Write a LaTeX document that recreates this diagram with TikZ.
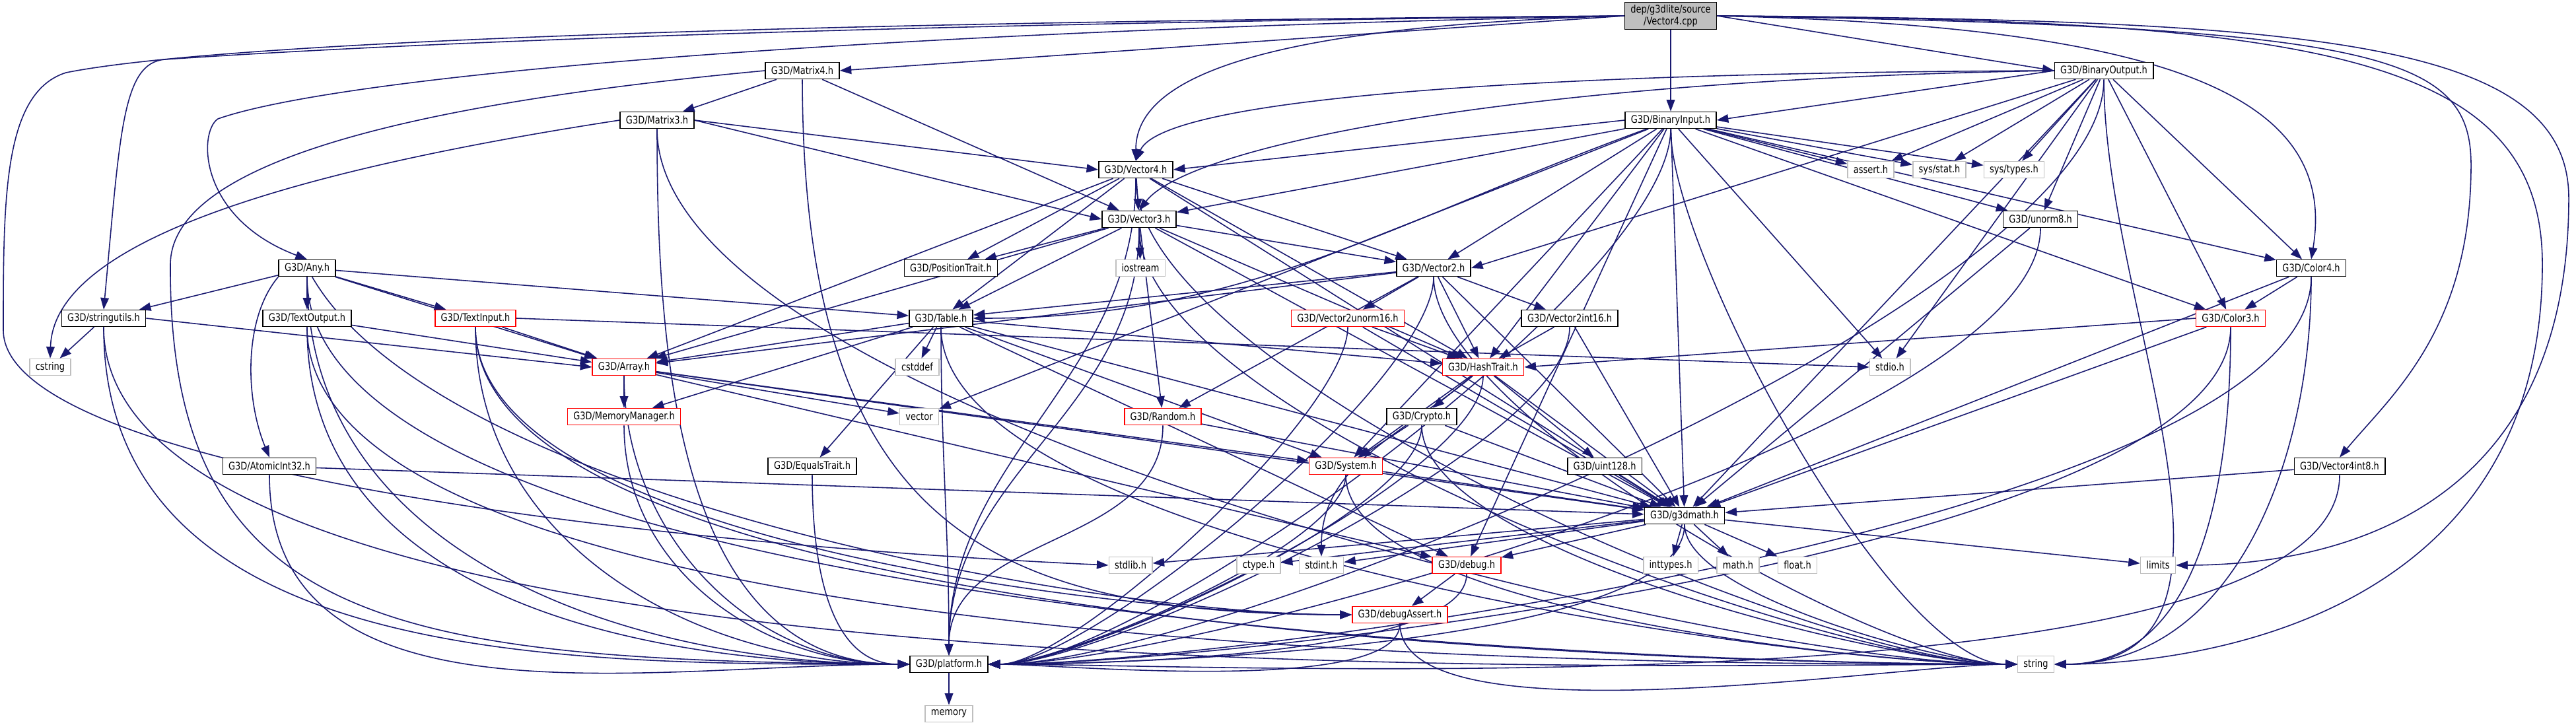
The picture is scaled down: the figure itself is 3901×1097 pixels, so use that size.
\documentclass[tikz,border=0pt]{standalone}
\usepackage{fontspec}
\usetikzlibrary{arrows.meta,backgrounds}
\newfontfamily\dotfont{DejaVu Sans}[FakeStretch=0.82]
\newcommand{\nodetext}{\dotfont\fontsize{4.5pt}{5.2pt}\selectfont}
\definecolor{edgeblue}{HTML}{191970}
\definecolor{rootgray}{HTML}{BFBFBF}
\definecolor{sysgray}{HTML}{BFBFBF}
\tikzset{
  file/.style={draw=black,fill=white,line width=0.45pt,minimum height=0.25cm,inner xsep=2.5pt,inner ysep=0pt,font=\nodetext},
  redfile/.style={file,draw=red},
  sysfile/.style={file,draw=sysgray},
  dep/.style={edgeblue,line width=0.45pt,-{Triangle[length=5pt,width=3.6pt]}}
}

\begin{document}
\begin{tikzpicture}[x=0.01cm,y=-0.01cm]
  \useasboundingbox (0,0) rectangle (3901,1097);

  % the source file
  \node[file,fill=rootgray,minimum height=0.41cm,align=center] (root) at (2530,24) {dep/g3dlite/source\\/Vector4.cpp};

  % headers, row by row
  \node[file] (mat4) at (1215,107) {G3D/Matrix4.h};
  \node[file] (binout) at (3186,107) {G3D/BinaryOutput.h};
  \node[file] (mat3) at (995,182) {G3D/Matrix3.h};
  \node[file] (binin) at (2530,182) {G3D/BinaryInput.h};
  \node[file] (vec4) at (1720,257) {G3D/Vector4.h};
  \node[sysfile] (assert) at (2833,257) {assert.h};
  \node[sysfile] (sysstat) at (2937,257) {sys/stat.h};
  \node[sysfile] (systypes) at (3050,257) {sys/types.h};
  \node[file] (vec3) at (1725,332) {G3D/Vector3.h};
  \node[file] (unorm8) at (3090,332) {G3D/unorm8.h};
  \node[file] (any) at (465,406) {G3D/Any.h};
  \node[file] (postrait) at (1440,406) {G3D/PositionTrait.h};
  \node[sysfile] (iostream) at (1727,406) {iostream};
  \node[file] (vec2) at (2171,406) {G3D/Vector2.h};
  \node[file] (col4) at (3500,406) {G3D/Color4.h};
  \node[file] (strutil) at (157,482) {G3D/stringutils.h};
  \node[file] (textout) at (465,482) {G3D/TextOutput.h};
  \node[redfile] (textin) at (720,482) {G3D/TextInput.h};
  \node[file] (table) at (1425,482) {G3D/Table.h};
  \node[redfile] (v2u16) at (2041,482) {G3D/Vector2unorm16.h};
  \node[file] (v2i16) at (2377,482) {G3D/Vector2int16.h};
  \node[redfile] (col3) at (3378,482) {G3D/Color3.h};
  \node[sysfile] (cstring) at (76,556) {cstring};
  \node[redfile] (array) at (945,556) {G3D/Array.h};
  \node[sysfile] (cstddef) at (1389,556) {cstddef};
  \node[redfile] (hash) at (2246,556) {G3D/HashTrait.h};
  \node[sysfile] (stdio) at (2862,556) {stdio.h};
  \node[redfile] (memmgr) at (945,631) {G3D/MemoryManager.h};
  \node[sysfile] (vector) at (1392,631) {vector};
  \node[redfile] (random) at (1761,631) {G3D/Random.h};
  \node[file] (crypto) at (2153,631) {G3D/Crypto.h};
  \node[file] (atomic) at (408,706) {G3D/AtomicInt32.h};
  \node[file] (equals) at (1230,706) {G3D/EqualsTrait.h};
  \node[redfile] (system) at (2038,706) {G3D/System.h};
  \node[file] (uint128) at (2430,706) {G3D/uint128.h};
  \node[file] (v4i8) at (3543,706) {G3D/Vector4int8.h};
  \node[file] (g3dmath) at (2551,781) {G3D/g3dmath.h};
  \node[sysfile] (stdlib) at (1712,856) {stdlib.h};
  \node[sysfile] (ctype) at (1906,856) {ctype.h};
  \node[sysfile] (stdint) at (2001,856) {stdint.h};
  \node[redfile] (debug) at (2221,856) {G3D/debug.h};
  \node[sysfile] (inttypes) at (2530,856) {inttypes.h};
  \node[sysfile] (math) at (2632,856) {math.h};
  \node[sysfile] (float) at (2722,856) {float.h};
  \node[sysfile] (limits) at (3268,856) {limits};
  \node[redfile] (dbgassert) at (2120,931) {G3D/debugAssert.h};
  \node[file] (platform) at (1437,1006) {G3D/platform.h};
  \node[sysfile] (string) at (3083,1006) {string};
  \node[sysfile] (memory) at (1437,1081) {memory};

  \begin{scope}[on background layer]
    \fill[white] (0,0) rectangle (3901,1097);

    % includes of the source file
    \draw[dep] (root) -- (binin);
    \draw[dep] (root.west) -- (mat4.east);
    \draw[dep] (root.east) -- (binout.west);
    \draw[dep] (root.west) .. controls (1900,40) and (1720,120) .. (vec4.north);
    \draw[dep] (root.west) .. controls (1200,50) and (500,120) .. (330,180) .. controls (300,200) and (300,330) .. (any.north);
    \draw[dep] (root.west) .. controls (1000,40) and (400,80) .. (250,90) .. controls (185,95) and (182,200) .. (strutil.north);
    \draw[dep] (root.west) .. controls (1000,35) and (300,70) .. (100,110) .. controls (5,140) and (5,300) .. (5,500) .. controls (5,700) and (900,820) .. (stdlib.west);
    \draw[dep] (root.east) .. controls (3300,40) and (3540,150) .. (col4.north);
    \draw[dep] (root.east) .. controls (3600,40) and (3742,80) .. (3742,250) .. controls (3742,500) and (3620,600) .. (v4i8.north);
    \draw[dep] (root.east) .. controls (3500,30) and (3890,60) .. (3890,300) .. controls (3890,800) and (3500,856) .. (limits.east);
    \draw[dep] (root.east) .. controls (3500,30) and (3850,80) .. (3850,400) .. controls (3850,950) and (3300,1006) .. (string.east);

    % Matrix4.h and Matrix3.h
    \foreach \t in {mat3,vec3} \draw[dep] (mat4) -- (\t);
    \draw[dep] (mat4.south) .. controls (1216,800) and (1500,930) .. (dbgassert.west);
    \draw[dep] (mat4.west) .. controls (700,150) and (260,230) .. (258,400) .. controls (255,950) and (600,1000) .. (platform.west);
    \foreach \t in {vec4,vec3} \draw[dep] (mat3.east) -- (\t.west);
    \draw[dep] (mat3.west) .. controls (300,280) and (80,400) .. (cstring.north);

    % BinaryOutput.h and BinaryInput.h
    \draw[dep] (binout.west) -- (binin.east);
    \draw[dep] (binout.west) .. controls (2300,110) and (1760,150) .. (vec4.north);
    \draw[dep] (binout.west) .. controls (2300,120) and (1800,220) .. (vec3.north);
    \draw[dep] (binout) -- (vec2.east);
    \foreach \t in {assert,sysstat,systypes,unorm8,col4,col3,stdio} \draw[dep] (binout) -- (\t);
    \draw[dep] (binin.west) -- (vec4.east);
    \foreach \t in {vec3,vec2,assert,sysstat,systypes,unorm8,col4,col3,stdio,system,debug,hash,vector} \draw[dep] (binin) -- (\t);
    \draw[dep] (binin) to[out=200,in=0] (table.east);

    % vectors
    \foreach \t in {vec3,postrait,table,vec2,hash,array} \draw[dep] (vec4) -- (\t);
    \foreach \t in {postrait,iostream,table,vec2,random,hash,array} \draw[dep] (vec3) -- (\t);
    \foreach \t in {v2u16,v2i16,hash,table,array,random} \draw[dep] (vec2) -- (\t);
    \foreach \s in {v2u16,v2i16} \draw[dep] (\s) -- (hash);

    % Any.h and text io
    \foreach \t in {strutil,textout,textin,array,table} \draw[dep] (any) -- (\t);
    \draw[dep] (any.south west) .. controls (370,480) and (370,600) .. (atomic.north);
    \draw[dep] (any) to[out=300,in=180,looseness=0.6] (dbgassert.west);
    \draw[dep] (strutil) -- (cstring);
    \draw[dep] (strutil.east) -- (array.west);
    \draw[dep] (textout) -- (array);
    \draw[dep] (textin) -- (array);
    \draw[dep] (textin.east) -- (stdio.west);
    \draw[dep] (textin) to[out=270,in=180,looseness=0.6] (dbgassert.west);

    % containers
    \foreach \t in {array,cstddef,memmgr,equals,system,hash,debug} \draw[dep] (table) -- (\t);
    \foreach \t in {memmgr,vector,system,debug} \draw[dep] (array) -- (\t);
    \foreach \t in {crypto,uint128,system} \draw[dep] (hash) -- (\t);
    \draw[dep] (hash) to[out=220,in=90] (stdint);
    \draw[dep] (crypto) -- (system);
    \draw[dep] (col4) -- (col3);
    \draw[dep] (col3.west) -- (hash.east);
    \draw[dep] (debug) -- (dbgassert);

    % into g3dmath.h
    \foreach \s in {vec4,vec3,vec2,v2u16,v2i16,hash,crypto,system,uint128,table,array,random,atomic,binin,binout,col4,col3,unorm8,v4i8} \draw[dep] (\s) -- (g3dmath);
    \foreach \t in {stdlib,ctype,stdint,debug,inttypes,math,float,limits} \draw[dep] (g3dmath) -- (\t);

    % into platform.h
    \foreach \s in {mat3,any,strutil,textout,textin,array,memmgr,equals,atomic} \draw[dep] (\s) to[out=270,in=180] (platform.west);
    \foreach \s in {table,vec4,vec3,random} \draw[dep] (\s) to[out=270,in=90] (platform);
    \foreach \s in {vec2,v2u16,v2i16,hash,crypto,system,g3dmath,debug,dbgassert,binin,binout,col4,col3,unorm8,v4i8} \draw[dep] (\s) to[out=270,in=0,looseness=0.45] (platform.east);
    \draw[dep] (platform) -- (memory);

    % into string
    \foreach \s in {any,strutil,textout,textin,table,vec4,vec3,vec2,system,crypto,g3dmath,dbgassert,binin,mat3} \draw[dep] (\s) to[out=270,in=180,looseness=0.5] (string.west);
    \foreach \s in {binout,col4,col3} \draw[dep] (\s) to[out=270,in=0] (string.east);
  \end{scope}
\end{tikzpicture}
\end{document}
